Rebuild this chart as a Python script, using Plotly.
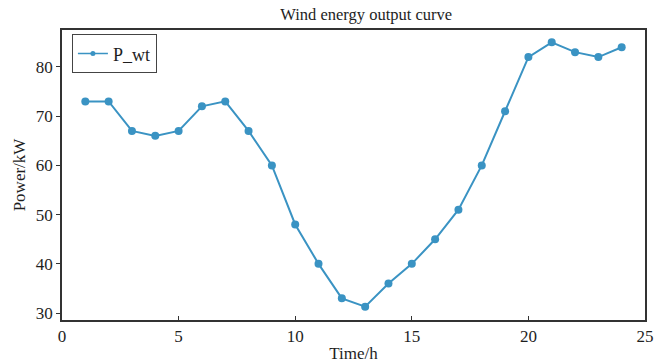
import plotly.graph_objects as go

hours = list(range(1, 25))
p_wt = [73, 73, 67, 66, 67, 72, 73, 67, 60, 48, 40, 33, 31.3, 36, 40, 45, 51, 60, 71, 82, 85, 83, 82, 84]
x_ticks = [0, 5, 10, 15, 20, 25]
y_ticks = [30, 40, 50, 60, 70, 80]

SERIF = "Liberation Serif, Times New Roman, serif"
COLOR = "#3a93c3"
TXT = "#1e1e1e"

fig = go.Figure()
fig.add_trace(go.Scatter(
    x=hours, y=p_wt, mode="lines+markers", name="P_wt", showlegend=False,
    line=dict(color=COLOR, width=2),
    marker=dict(color=COLOR, size=8),
))
# legend-only entry with a smaller marker, as in the reference legend
fig.add_trace(go.Scatter(
    x=[None], y=[None], mode="lines+markers", name="P_wt",
    line=dict(color=COLOR, width=1.5),
    marker=dict(color=COLOR, size=5),
))

fig.update_layout(
    width=654, height=364,
    margin=dict(l=62, r=9, t=30, b=44),
    paper_bgcolor="white", plot_bgcolor="white",
    font=dict(family=SERIF, size=17, color=TXT),
    title=dict(text="Wind energy output curve", x=0.56, xanchor="center",
               y=0.962, yanchor="middle", font=dict(family=SERIF, size=16.5, color=TXT)),
    showlegend=True,
    legend=dict(x=0.017, y=0.985, xanchor="left", yanchor="top",
                bordercolor="#444", borderwidth=1, bgcolor="white",
                font=dict(family=SERIF, size=18, color=TXT),
                itemwidth=30, tracegroupgap=0),
)
fig.update_xaxes(
    range=[0, 25], tickvals=x_ticks, showgrid=False, zeroline=False,
    showline=True, linecolor="#333", linewidth=1.5, mirror=True,
    ticks="inside", ticklen=4, tickcolor="#333", automargin=False,
    tickfont=dict(family=SERIF, size=17, color=TXT),
    title=dict(text="Time/h", standoff=2, font=dict(family=SERIF, size=17, color=TXT)),
)
fig.update_yaxes(
    range=[28.6, 87.5], tickvals=y_ticks, showgrid=False, zeroline=False,
    showline=True, linecolor="#333", linewidth=1.5, mirror=True,
    ticks="outside", ticklen=4, tickcolor="#333", automargin=False,
    tickfont=dict(family=SERIF, size=17, color=TXT),
    title=dict(text="Power/kW", standoff=6, font=dict(family=SERIF, size=17, color=TXT)),
)

fig.write_html("out.html")
